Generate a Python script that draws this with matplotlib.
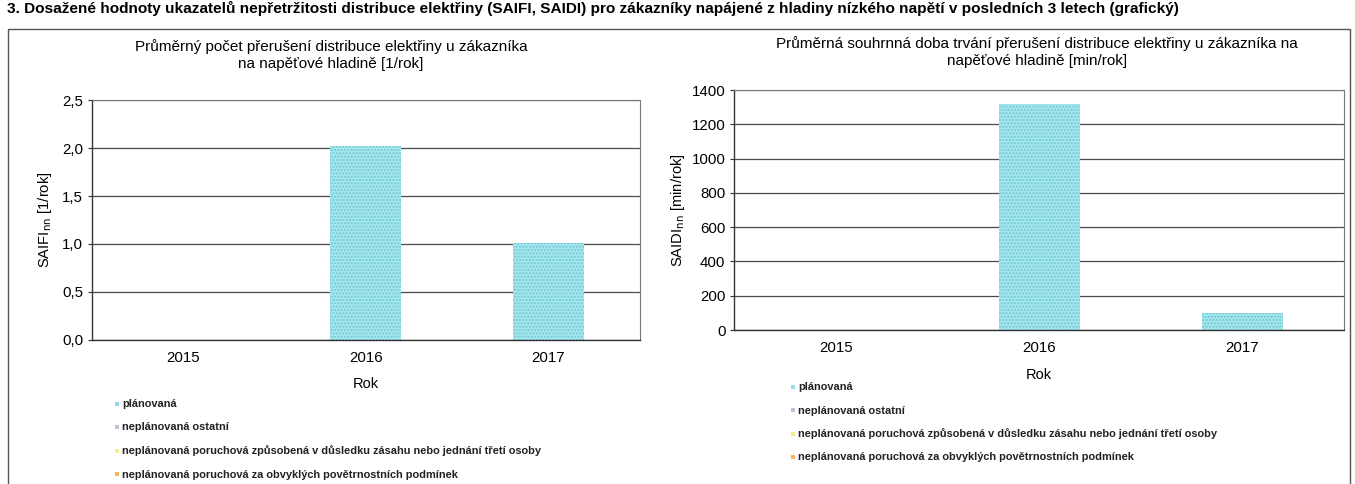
import matplotlib
matplotlib.use("Agg")
import matplotlib.pyplot as plt
from matplotlib.patches import Rectangle

plt.rcParams['font.family'] = ['Liberation Sans', 'DejaVu Sans']

years = ['2015', '2016', '2017']
saifi = [0.0, 2.02, 1.01]
saidi = [0.0, 1320, 100]

legend_labels = ['plánovaná', 'neplánovaná ostatní',
                 'neplánovaná poruchová způsobená v důsledku zásahu nebo jednání třetí osoby',
                 'neplánovaná poruchová za obvyklých povětrnostních podmínek']
legend_colors = ['#8fdfe8', '#b9c4d6', '#f4ee8a', '#f5b45a']

bar_col = '#a6e6ec'
hatch_col = '#6cc9d6'
grid_col = '#4a4a4a'

fig = plt.figure(figsize=(13.55, 4.84), dpi=100)

fig.text(0.005, 0.982, '3. Dosažené hodnoty ukazatelů nepřetržitosti distribuce elektřiny (SAIFI, SAIDI) '
         'pro zákazníky napájené z hladiny nízkého napětí v posledních 3 letech (grafický)',
         fontsize=11.1, fontweight='bold', ha='left', va='center')

# outer frame
fig.patches.append(Rectangle((0.006, -0.01), 0.990, 0.95, transform=fig.transFigure,
                             fill=False, edgecolor='#555555', linewidth=1.0))


def draw_chart(rect, values, ylim, yticks, ticklabels, ylabel, title, title_xy, bar_w, ypad):
    ax = fig.add_axes(rect)
    x = range(len(years))
    ax.bar(x, values, width=bar_w, color=bar_col, edgecolor=hatch_col,
           hatch='.....', linewidth=0)
    ax.set_xlim(-0.5, len(years) - 0.5)
    ax.set_ylim(*ylim)
    ax.set_yticks(yticks)
    ax.set_yticklabels(ticklabels, fontsize=10.8)
    ax.set_xticks(list(x))
    ax.set_xticklabels(years, fontsize=10.8)
    ax.tick_params(axis='x', length=0, pad=8)
    ax.tick_params(axis='y', length=3, width=0.8, color='#333333')
    ax.set_axisbelow(True)
    ax.yaxis.grid(True, color=grid_col, linewidth=0.9)
    for s in ['top', 'right']:
        ax.spines[s].set_linestyle((0, (2, 1)))
        ax.spines[s].set_color('#777777')
        ax.spines[s].set_linewidth(0.8)
    for s in ['left', 'bottom']:
        ax.spines[s].set_linestyle((0, (2, 1)))
        ax.spines[s].set_color('#333333')
        ax.spines[s].set_linewidth(1.0)
    ax.set_xlabel('Rok', fontsize=10.5, labelpad=9)
    ax.set_ylabel(ylabel, fontsize=10.6, labelpad=ypad)
    fig.text(title_xy[0], title_xy[1], title, fontsize=11, linespacing=1.25,
             ha='center', va='center')
    return ax


ax1 = draw_chart([0.068, 0.298, 0.404, 0.495], saifi, (0, 2.5),
                 [0, 0.5, 1.0, 1.5, 2.0, 2.5],
                 ['0,0', '0,5', '1,0', '1,5', '2,0', '2,5'],
                 r'SAIFI$_{\mathrm{nn}}$ [1/rok]',
                 'Průměrný počet přerušení distribuce elektřiny u zákazníka\nna napěťové hladině [1/rok]',
                 (331 / 1355, 1 - 55 / 484), 0.39, 6)

ax2 = draw_chart([0.542, 0.318, 0.450, 0.496], saidi, (0, 1400),
                 [0, 200, 400, 600, 800, 1000, 1200, 1400],
                 ['0', '200', '400', '600', '800', '1000', '1200', '1400'],
                 r'SAIDI$_{\mathrm{nn}}$ [min/rok]',
                 'Průměrná souhrnná doba trvání přerušení distribuce elektřiny u zákazníka na\nnapěťové hladině [min/rok]',
                 (1037 / 1355, 1 - 52 / 484), 0.40, 3)


def draw_legend(x0, y0, dy):
    for i, (lab, col) in enumerate(zip(legend_labels, legend_colors)):
        y = y0 - i * dy
        fig.patches.append(Rectangle((x0, y - 0.004), 0.003, 0.009, transform=fig.transFigure,
                                     facecolor=col, edgecolor='none'))
        fig.text(x0 + 0.005, y, lab, fontsize=7.9, fontweight='bold', ha='left', va='center',
                 color='#222222')


draw_legend(0.085, 1 - 404 / 484, 23.5 / 484)
draw_legend(0.584, 1 - 387 / 484, 23.5 / 484)

fig.savefig('out.png', dpi=100, facecolor='white')
